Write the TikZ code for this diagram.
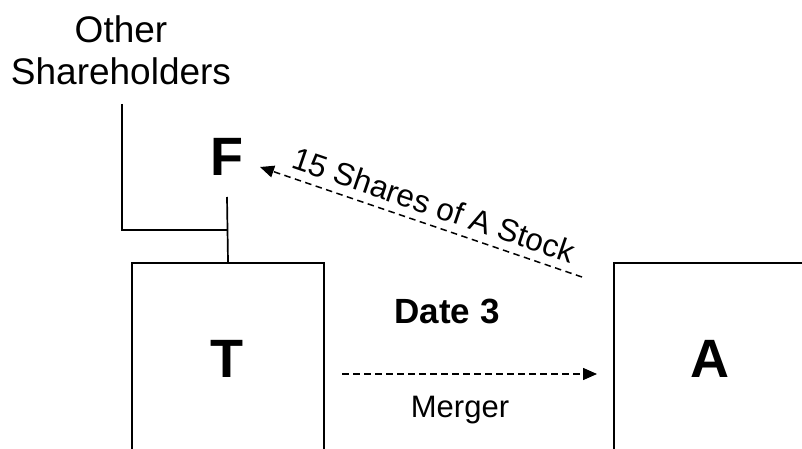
\documentclass[tikz,border=0pt]{standalone}
\usepackage{fontspec}
\setmainfont{Liberation Sans}
\usetikzlibrary{arrows.meta, positioning, calc}

\begin{document}
\begin{tikzpicture}[x=1bp, y=-1bp,
    firm/.style={draw, line width=2bp, minimum height=260bp, anchor=north west, inner sep=0pt},
    letter/.style={font=\fontsize{54bp}{60bp}\selectfont\bfseries, anchor=base, inner sep=0pt},
    txt/.style={font=\fontsize{31bp}{36bp}\selectfont, anchor=base, inner sep=0pt},
    link/.style={line width=1.7bp},
    flow/.style={line width=1.5bp, dash pattern=on 6.5bp off 4.5bp, -{Triangle[length=14bp, width=12bp]}}]
  \useasboundingbox (0,0) rectangle (802,449);
  \clip (0,0) rectangle (802,449);
  % the two firms, cut off at the bottom
  \node[firm, minimum width=192bp] (tbox) at (131,262) {};
  \node[firm, minimum width=260bp] (abox) at (613,262) {};
  \node[letter] (T) at (227,378) {T};
  \node[letter] (A) at (710,378) {A};
  \node[letter] (F) at (227,176) {F};
  \node[txt, align=center, font=\fontsize{37bp}{42bp}\selectfont] (others) at (121,85) {Other\\Shareholders};
  \node[txt, font=\fontsize{35bp}{40bp}\selectfont\bfseries] (date) at (447,324) {Date 3};
  % ownership lines
  \coordinate (shTop) at (122,104);
  \coordinate (join) at (227,230);
  \coordinate (fFoot) at (227,197);
  \draw[link] (shTop) |- (join);
  \draw[link] (fFoot) -- (tbox.north);
  % merger and share consideration
  \coordinate (mStart) at (342,374);
  \draw[flow, shorten >=16bp] (mStart) -- (abox.west |- mStart);
  \node[txt] (merger) at (460,417) {Merger};
  \coordinate (sStart) at (582,277);
  \coordinate (fTip) at (260,167);
  \draw[flow] (sStart) -- (fTip) node[txt, font=\fontsize{31.5bp}{36bp}\selectfont, anchor=south, pos=0.48, sloped, yshift=8bp] {15 Shares of A Stock};
\end{tikzpicture}
\end{document}
